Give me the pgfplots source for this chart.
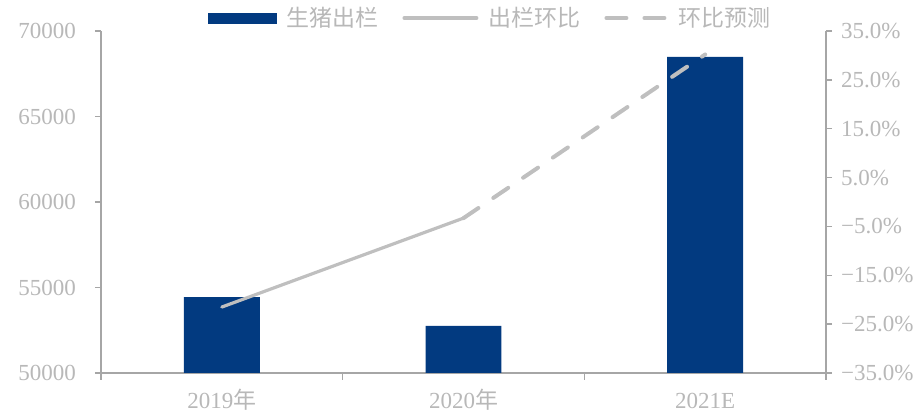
\documentclass[border=0pt]{standalone}
\usepackage{fontspec}
\setmainfont{Liberation Serif}
\newfontfamily\cjk{Noto Sans CJK SC}
\usepackage{pgfplots}
\pgfplotsset{compat=1.18}
\definecolor{barblue}{HTML}{023A80}
\definecolor{lgray}{HTML}{BFBFBF}
\definecolor{tgray}{HTML}{B8B8B8}
\definecolor{agray}{HTML}{A6A6A6}
\begin{document}
\begin{tikzpicture}
\useasboundingbox (-50.5pt,-19.5pt) rectangle (410.5pt,186.5pt);
\begin{axis}[
  at={(0,0)}, anchor=south west, scale only axis,
  width=362.5pt, height=171pt,
  xmin=-0.5, xmax=2.5, ymin=50000, ymax=70000,
  axis x line*=bottom, axis y line*=left,
  axis line style={agray, line width=0.75pt},
  tick style={agray, line width=0.75pt},
  tick align=outside,
  scaled y ticks=false,
  xtick={0,1,2}, xticklabels={2019{\cjk 年},2020{\cjk 年},2021E},
  major x tick style={draw=none},
  minor xtick={-0.5,0.5,1.5,2.5}, minor tick length=3.5pt,
  major tick length=3pt,
  ytick={50000,55000,60000,65000,70000},
  yticklabels={50000,55000,60000,65000,70000},
  ticklabel style={font=\fontsize{11.5}{13}\selectfont, text=tgray},
  yticklabel style={xshift=-6pt},
  xticklabel style={anchor=base, yshift=-15pt},
]
\addplot[ybar, bar width=0.314, fill=barblue, draw=none] coordinates {(0,54440) (1,52750) (2,68480)};
\end{axis}
\begin{axis}[
  at={(0,0)}, anchor=south west, scale only axis,
  width=362.5pt, height=171pt,
  xmin=-0.5, xmax=2.5, ymin=-35, ymax=35,
  axis x line=none, axis y line*=right,
  axis line style={agray, line width=0.75pt},
  tick style={agray, line width=0.75pt},
  tick align=outside, major tick length=3pt,
  ytick={-35,-25,-15,-5,5,15,25,35},
  yticklabels={−35.0\%,−25.0\%,−15.0\%,−5.0\%,5.0\%,15.0\%,25.0\%,35.0\%},
  ticklabel style={font=\fontsize{11.5}{13}\selectfont, text=tgray},
  yticklabel style={xshift=1pt},
  legend style={at={(0.538,1.038)}, anchor=center, draw=none, fill=none,
    legend columns=-1, font=\cjk\fontsize{11.5}{13}\selectfont, text=tgray,
    /tikz/every odd column/.append style={column sep=3pt},
    /tikz/every even column/.append style={column sep=10pt}},
]
\addlegendimage{legend image code/.code={\fill[barblue] (0pt,-2.5pt) rectangle (34pt,2.5pt);}}
\addplot[lgray, line width=1.6pt, line cap=round,
  legend image code/.code={\draw[lgray, line width=2pt, line cap=round] (0pt,0pt) -- (36pt,0pt);}]
  coordinates {(0,-21.5) (1,-3.3)};
\addplot[lgray, line width=2pt, line cap=round, dash pattern=on 9pt off 9pt,
  legend image code/.code={\draw[lgray, line width=2pt, line cap=round, dash pattern=on 10pt off 9pt] (0pt,0pt) -- (30pt,0pt);}]
  coordinates {(1,-3.3) (2,30.2)};
\legend{生猪出栏,出栏环比,环比预测}
\end{axis}
\end{tikzpicture}
\end{document}
